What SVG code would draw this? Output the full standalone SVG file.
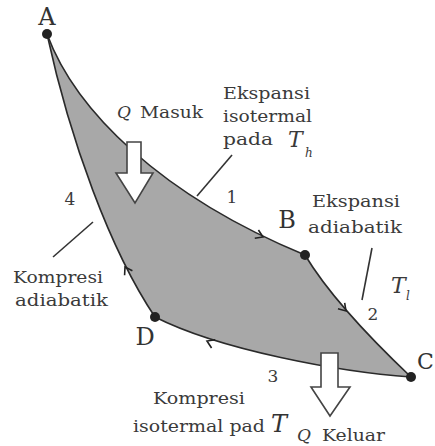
<svg xmlns="http://www.w3.org/2000/svg" xmlns:xlink="http://www.w3.org/1999/xlink" width="435" height="446" viewBox="0 0 435 446">
<style>
  text { font-family: 'DejaVu Serif', serif; }
  .t { font-size: 17px; fill: #3a3a3a; }
  .big { font-size: 24px; fill: #333; }
  .it { font-style: italic; }
  .tt { font-size: 22px; }
  .sub { font-size: 12px; }
  .lead { stroke: #333; stroke-width: 1.6; fill: none; }
  .dot { fill: #222; }
  .edge { fill: none; stroke: #2a2a2a; stroke-width: 1.6; }
  .blk { fill: #fff; stroke: #444; stroke-width: 1.6; stroke-linejoin: miter; }
</style>
<defs>
  <path id="chev" d="M-7,-4.5 L0,0 L-7,4.5" fill="none" stroke="#222" stroke-width="1.6"/>
</defs>
<rect width="435" height="446" fill="#fff"/>
<g id="cycle">
  <path d="M47,34 C75,110 160,195 305,255 Q335,305 411,377 C340,372 220,350 155,317 C110,250 70,140 47,34 Z" fill="#a8a8a8" stroke="none"/>
</g>
<g id="connectors">
  <path class="edge" d="M47,34 C75,110 160,195 305,255"/>
  <path class="edge" d="M305,255 Q335,305 411,377"/>
  <path class="edge" d="M411,377 C340,372 220,350 155,317"/>
  <path class="edge" d="M155,317 C110,250 70,140 47,34"/>
  <use xlink:href="#chev" transform="translate(263,237) rotate(24)"/>
  <use xlink:href="#chev" transform="translate(346,311) rotate(48)"/>
  <use xlink:href="#chev" transform="translate(207,341) rotate(204)"/>
  <use xlink:href="#chev" transform="translate(125,267) rotate(-120)"/>
  <line class="lead" x1="232" y1="155" x2="197" y2="196"/>
  <line class="lead" x1="372" y1="248" x2="362" y2="300"/>
  <line class="lead" x1="93" y1="222" x2="53" y2="257"/>
</g>
<g id="nodeA">
  <circle class="dot" cx="47" cy="34" r="5"/>
  <text class="big" x="47" y="25" text-anchor="middle">A</text>
</g>
<g id="nodeB">
  <circle class="dot" cx="305" cy="255" r="5"/>
  <text class="big" x="287" y="228" text-anchor="middle">B</text>
</g>
<g id="nodeC">
  <circle class="dot" cx="411" cy="377" r="5"/>
  <text class="big" x="417" y="369" style="font-size:22px">C</text>
</g>
<g id="nodeD">
  <circle class="dot" cx="155" cy="317" r="5"/>
  <text class="big" x="145" y="345" text-anchor="middle">D</text>
</g>
<g id="qin">
  <polygon class="blk" points="127,142 141,142 141,173 153,173 135,203 116,173 127,173"/>
  <text class="t it" x="117" y="118">Q</text>
  <text class="t" x="140" y="118" textLength="63" lengthAdjust="spacingAndGlyphs">Masuk</text>
</g>
<g id="qout">
  <polygon class="blk" points="321,353 338,353 338,387 350,387 330,416 311,387 321,387"/>
</g>
<g id="labels">
  <text class="t" x="223" y="99" textLength="87" lengthAdjust="spacingAndGlyphs">Ekspansi</text>
  <text class="t" x="223" y="122" textLength="89" lengthAdjust="spacingAndGlyphs">isotermal</text>
  <text class="t" x="223" y="145" textLength="50" lengthAdjust="spacingAndGlyphs">pada</text>
  <text class="t it tt" x="288" y="147">T</text>
  <text class="t it sub" x="305" y="157">h</text>
  <text class="t" x="232" y="203" text-anchor="middle">1</text>
  <text class="t" x="312" y="207" textLength="88" lengthAdjust="spacingAndGlyphs">Ekspansi</text>
  <text class="t" x="308" y="233" textLength="94" lengthAdjust="spacingAndGlyphs">adiabatik</text>
  <text class="t it tt" x="391" y="293">T</text>
  <text class="t it sub" x="406" y="300">l</text>
  <text class="t" x="373" y="320" text-anchor="middle">2</text>
  <text class="t" x="70" y="205" text-anchor="middle">4</text>
  <text class="t" x="13" y="283" textLength="90" lengthAdjust="spacingAndGlyphs">Kompresi</text>
  <text class="t" x="15" y="306" textLength="93" lengthAdjust="spacingAndGlyphs">adiabatik</text>
  <text class="t" x="273" y="382" text-anchor="middle">3</text>
  <text class="t" x="153" y="404" textLength="92" lengthAdjust="spacingAndGlyphs">Kompresi</text>
  <text class="t" x="133" y="432" textLength="132" lengthAdjust="spacingAndGlyphs">isotermal pad</text>
  <text class="t it big" x="271" y="432">T</text>
  <text class="t it" x="297" y="441">Q</text>
  <text class="t" x="322" y="441" textLength="63" lengthAdjust="spacingAndGlyphs">Keluar</text>
</g>
</svg>
